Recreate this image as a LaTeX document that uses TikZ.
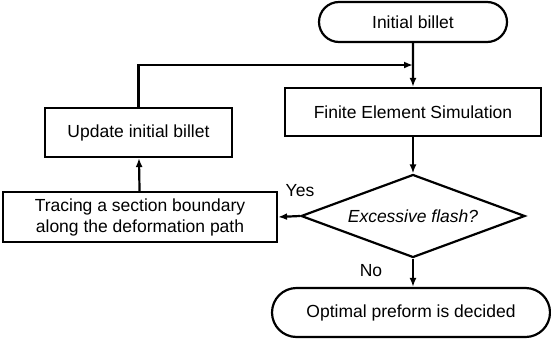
\documentclass[tikz,border=0pt]{standalone}
\usepackage{fontspec}
\setmainfont{Liberation Sans}
\usetikzlibrary{shapes.misc,shapes.geometric,arrows.meta}
\begin{document}
\begin{tikzpicture}[x=1pt,y=-1pt,
  every node/.style={font=\fontsize{17.5}{21}\selectfont, inner sep=0pt},
  term/.style={draw, line width=2.2pt, rounded rectangle},
  procbox/.style={draw, line width=2.2pt, rectangle, align=center},
  decbox/.style={draw, line width=2.2pt, diamond, aspect=2.7},
  conn/.style={line width=2.2pt, -{Latex[length=9pt,width=7pt]}},
  lab/.style={font=\fontsize{17.5}{21}\selectfont}]
\useasboundingbox (0,0) rectangle (551,343);
\node[term, minimum width=188pt, minimum height=40pt] (init) at (413,22) {Initial billet};
\node[procbox, minimum width=256pt, minimum height=48pt] (fes) at (413,112) {Finite Element Simulation};
\node[decbox, minimum width=224pt, minimum height=83pt] (dec) at (413,216) {\itshape Excessive flash?};
\node[procbox, minimum width=274pt, minimum height=50pt] (trace) at (140,217) {Tracing a section boundary\\along the deformation path};
\node[procbox, minimum width=187pt, minimum height=49pt] (upd) at (138.5,132.5) {Update initial billet};
\node[term, minimum width=278pt, minimum height=49pt] (opt) at (411,312.5) {Optimal preform is decided};
\coordinate (j) at (413,65);
\draw[conn] (init) -- (fes);
\draw[conn] (fes) -- (dec);
\draw[conn] (dec.west) -- (trace.east);
\draw[conn] (trace) -- (upd);
\draw[conn] (upd.north) |- (j);
\draw[conn] (dec.south) -- (opt.north -| dec.south);
\node[lab] (yes) at (300,191) {Yes};
\node[lab] (no) at (371,271) {No};
\end{tikzpicture}
\end{document}
